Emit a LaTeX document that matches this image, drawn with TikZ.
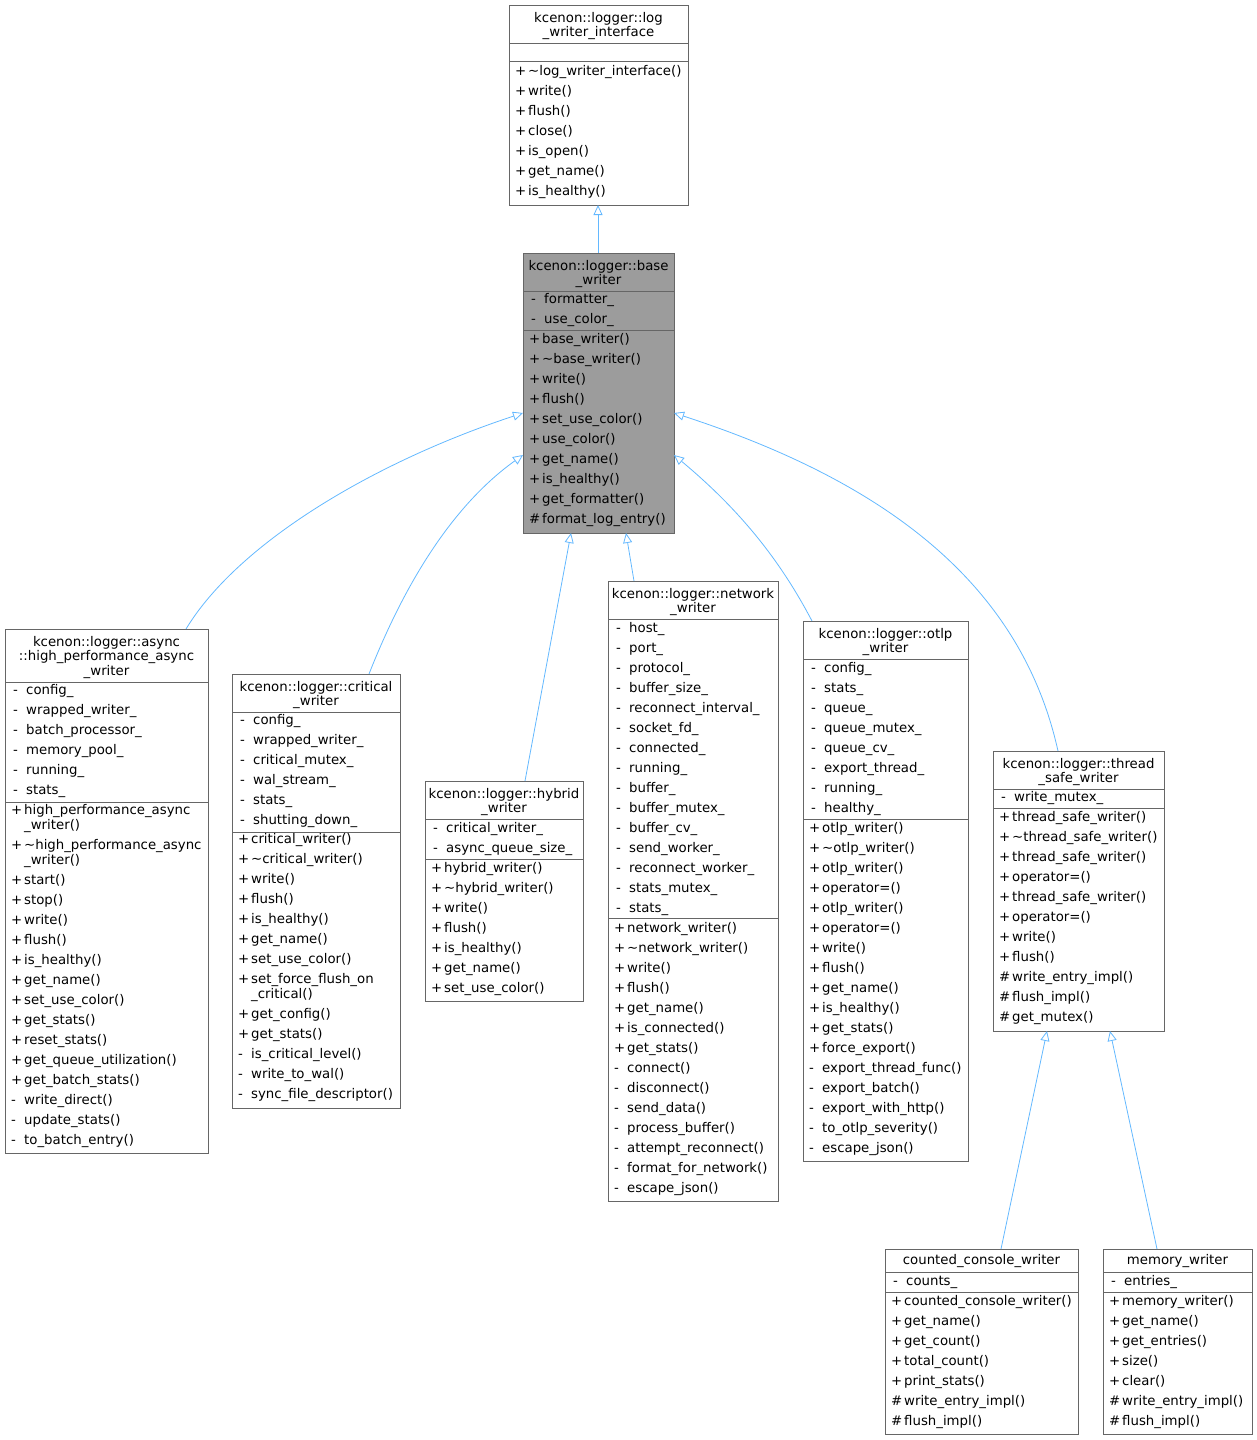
\documentclass[tikz,border=0pt]{standalone}
\usepackage{fontspec}
\setmainfont{DejaVu Sans}
\usetikzlibrary{arrows.meta,calc}
\definecolor{edgeblue}{HTML}{63B8FF}
\definecolor{boxgray}{HTML}{666666}
\tikzset{
  boxline/.style={draw=boxgray,line width=0.8pt},
  ttl/.style={anchor=north,inner sep=0,yshift=1pt,align=center,font=\fontsize{13.3}{14.5}\selectfont},
  lst/.style={anchor=north west,inner sep=0,yshift=1pt,align=left,font=\fontsize{13.3}{20}\selectfont},
  inh/.style={draw=edgeblue,line width=0.8pt,-{Triangle[open,length=10pt,width=9pt,fill=white]}}
}
\newcommand\mk[1]{\makebox[13pt][l]{#1}}
\newcommand\ubox[8]{%
  \pgfmathsetmacro\ww{#3-#2}\pgfmathsetmacro\hh{#7-#4}%
  \node[boxline,fill=#8,anchor=north west,inner sep=0,outer sep=0,minimum width=\ww pt,minimum height=\hh pt] (#1) at (#2,#4) {};
  \draw[boxline] (#2,#5)--(#3,#5);
  \draw[boxline] (#2,#6)--(#3,#6);
}
\begin{document}
\begin{tikzpicture}[x=1pt,y=-1pt]
\useasboundingbox (0,0) rectangle (1257,1440);
% interface
\ubox{iface}{509}{688}{5}{43}{61}{205}{white}
\node[ttl] at (598.5,13) {kcenon::logger::log\\\_writer\_interface};
\node[lst] at (515,66.5) {\mk{+}\textasciitilde log\_writer\_interface()\\\mk{+}write()\\\mk{+}flush()\\\mk{+}close()\\\mk{+}is\_open()\\\mk{+}get\_name()\\\mk{+}is\_healthy()};
% base
\ubox{base}{523}{674}{253}{291}{330}{533}{boxgray!65}
\node[ttl] at (598.5,261) {kcenon::logger::base\\\_writer};
\node[lst] at (531,294.5) {\mk{-}formatter\_\\\mk{-}use\_color\_};
\node[lst] at (529,334.5) {\mk{+}base\_writer()\\\mk{+}\textasciitilde base\_writer()\\\mk{+}write()\\\mk{+}flush()\\\mk{+}set\_use\_color()\\\mk{+}use\_color()\\\mk{+}get\_name()\\\mk{+}is\_healthy()\\\mk{+}get\_formatter()\\\mk{\#}format\_log\_entry()};
% async
\ubox{async}{5}{208}{629}{682}{802}{1153}{white}
\node[ttl] at (106.5,637) {kcenon::logger::async\\::high\_performance\_async\\\_writer};
\node[lst] at (13,685.5) {\mk{-}config\_\\\mk{-}wrapped\_writer\_\\\mk{-}batch\_processor\_\\\mk{-}memory\_pool\_\\\mk{-}running\_\\\mk{-}stats\_};
\node[lst] at (11,805.5) {\mk{+}high\_performance\_async\\[-5pt]\mk{}\_writer()\\\mk{+}\textasciitilde high\_performance\_async\\[-5pt]\mk{}\_writer()\\\mk{+}start()\\\mk{+}stop()\\\mk{+}write()\\\mk{+}flush()\\\mk{+}is\_healthy()\\\mk{+}get\_name()\\\mk{+}set\_use\_color()\\\mk{+}get\_stats()\\\mk{+}reset\_stats()\\\mk{+}get\_queue\_utilization()\\\mk{+}get\_batch\_stats()\\\mk{-}write\_direct()\\\mk{-}update\_stats()\\\mk{-}to\_batch\_entry()};
% critical
\ubox{crit}{232}{400}{674}{712}{832}{1108}{white}
\node[ttl] at (316,682) {kcenon::logger::critical\\\_writer};
\node[lst] at (240,715.5) {\mk{-}config\_\\\mk{-}wrapped\_writer\_\\\mk{-}critical\_mutex\_\\\mk{-}wal\_stream\_\\\mk{-}stats\_\\\mk{-}shutting\_down\_};
\node[lst] at (238,834.5) {\mk{+}critical\_writer()\\\mk{+}\textasciitilde critical\_writer()\\\mk{+}write()\\\mk{+}flush()\\\mk{+}is\_healthy()\\\mk{+}get\_name()\\\mk{+}set\_use\_color()\\\mk{+}set\_force\_flush\_on\\[-5pt]\mk{}\_critical()\\\mk{+}get\_config()\\\mk{+}get\_stats()\\\mk{-}is\_critical\_level()\\\mk{-}write\_to\_wal()\\\mk{-}sync\_file\_descriptor()};
% hybrid
\ubox{hyb}{425}{583}{781}{819}{859}{1001}{white}
\node[ttl] at (504,789) {kcenon::logger::hybrid\\\_writer};
\node[lst] at (433,823.5) {\mk{-}critical\_writer\_\\\mk{-}async\_queue\_size\_};
\node[lst] at (431,863.5) {\mk{+}hybrid\_writer()\\\mk{+}\textasciitilde hybrid\_writer()\\\mk{+}write()\\\mk{+}flush()\\\mk{+}is\_healthy()\\\mk{+}get\_name()\\\mk{+}set\_use\_color()};
% network
\ubox{net}{608}{778}{581}{619}{918}{1201}{white}
\node[ttl] at (693,589) {kcenon::logger::network\\\_writer};
\node[lst] at (616,623.5) {\mk{-}host\_\\\mk{-}port\_\\\mk{-}protocol\_\\\mk{-}buffer\_size\_\\\mk{-}reconnect\_interval\_\\\mk{-}socket\_fd\_\\\mk{-}connected\_\\\mk{-}running\_\\\mk{-}buffer\_\\\mk{-}buffer\_mutex\_\\\mk{-}buffer\_cv\_\\\mk{-}send\_worker\_\\\mk{-}reconnect\_worker\_\\\mk{-}stats\_mutex\_\\\mk{-}stats\_};
\node[lst] at (614,923.5) {\mk{+}network\_writer()\\\mk{+}\textasciitilde network\_writer()\\\mk{+}write()\\\mk{+}flush()\\\mk{+}get\_name()\\\mk{+}is\_connected()\\\mk{+}get\_stats()\\\mk{-}connect()\\\mk{-}disconnect()\\\mk{-}send\_data()\\\mk{-}process\_buffer()\\\mk{-}attempt\_reconnect()\\\mk{-}format\_for\_network()\\\mk{-}escape\_json()};
% otlp
\ubox{otlp}{803}{968}{621}{659}{819}{1161}{white}
\node[ttl] at (885.5,629) {kcenon::logger::otlp\\\_writer};
\node[lst] at (811,663.5) {\mk{-}config\_\\\mk{-}stats\_\\\mk{-}queue\_\\\mk{-}queue\_mutex\_\\\mk{-}queue\_cv\_\\\mk{-}export\_thread\_\\\mk{-}running\_\\\mk{-}healthy\_};
\node[lst] at (809,823.5) {\mk{+}otlp\_writer()\\\mk{+}\textasciitilde otlp\_writer()\\\mk{+}otlp\_writer()\\\mk{+}operator=()\\\mk{+}otlp\_writer()\\\mk{+}operator=()\\\mk{+}write()\\\mk{+}flush()\\\mk{+}get\_name()\\\mk{+}is\_healthy()\\\mk{+}get\_stats()\\\mk{+}force\_export()\\\mk{-}export\_thread\_func()\\\mk{-}export\_batch()\\\mk{-}export\_with\_http()\\\mk{-}to\_otlp\_severity()\\\mk{-}escape\_json()};
% thread safe
\ubox{tsw}{993}{1164}{751}{789}{808}{1031}{white}
\node[ttl] at (1078.5,759) {kcenon::logger::thread\\\_safe\_writer};
\node[lst] at (1001,792.5) {\mk{-}write\_mutex\_};
\node[lst] at (999,812.5) {\mk{+}thread\_safe\_writer()\\\mk{+}\textasciitilde thread\_safe\_writer()\\\mk{+}thread\_safe\_writer()\\\mk{+}operator=()\\\mk{+}thread\_safe\_writer()\\\mk{+}operator=()\\\mk{+}write()\\\mk{+}flush()\\\mk{\#}write\_entry\_impl()\\\mk{\#}flush\_impl()\\\mk{\#}get\_mutex()};
% counted
\ubox{cnt}{885}{1078}{1249}{1272}{1292}{1434}{white}
\node[ttl] at (981.5,1255) {counted\_console\_writer};
\node[lst] at (893,1276.5) {\mk{-}counts\_};
\node[lst] at (891,1296.5) {\mk{+}counted\_console\_writer()\\\mk{+}get\_name()\\\mk{+}get\_count()\\\mk{+}total\_count()\\\mk{+}print\_stats()\\\mk{\#}write\_entry\_impl()\\\mk{\#}flush\_impl()};
% memory
\ubox{mem}{1103}{1252}{1249}{1272}{1292}{1434}{white}
\node[ttl] at (1177.5,1255) {memory\_writer};
\node[lst] at (1111,1276.5) {\mk{-}entries\_};
\node[lst] at (1109,1296.5) {\mk{+}memory\_writer()\\\mk{+}get\_name()\\\mk{+}get\_entries()\\\mk{+}size()\\\mk{+}clear()\\\mk{\#}write\_entry\_impl()\\\mk{\#}flush\_impl()};
% edges
\draw[inh] ([xshift=-0.5pt]base.north) -- ([xshift=-0.5pt]iface.south);
\draw[inh] ([xshift=79.5pt]async.north) .. controls (240,540) and (380,460) .. ([yshift=-160pt]base.north west);
\draw[inh] ([xshift=53pt]crit.north) .. controls (410,570) and (460,500) .. ([yshift=-202pt]base.north west);
\draw[inh] ([xshift=21pt]hyb.north) -- ([xshift=-27.5pt]base.south);
\draw[inh] ([xshift=-59pt]net.north) -- ([xshift=27.5pt]base.south);
\draw[inh] ([xshift=-73.5pt]otlp.north) .. controls (780,560) and (740,510) .. ([yshift=-202pt]base.north east);
\draw[inh] ([xshift=-20.5pt]tsw.north) .. controls (1020,580) and (880,480) .. ([yshift=-160pt]base.north east);
\draw[inh] ([xshift=19.5pt]cnt.north) -- ([xshift=-31.5pt]tsw.south);
\draw[inh] ([xshift=-20.5pt]mem.north) -- ([xshift=31.5pt]tsw.south);
\end{tikzpicture}
\end{document}
